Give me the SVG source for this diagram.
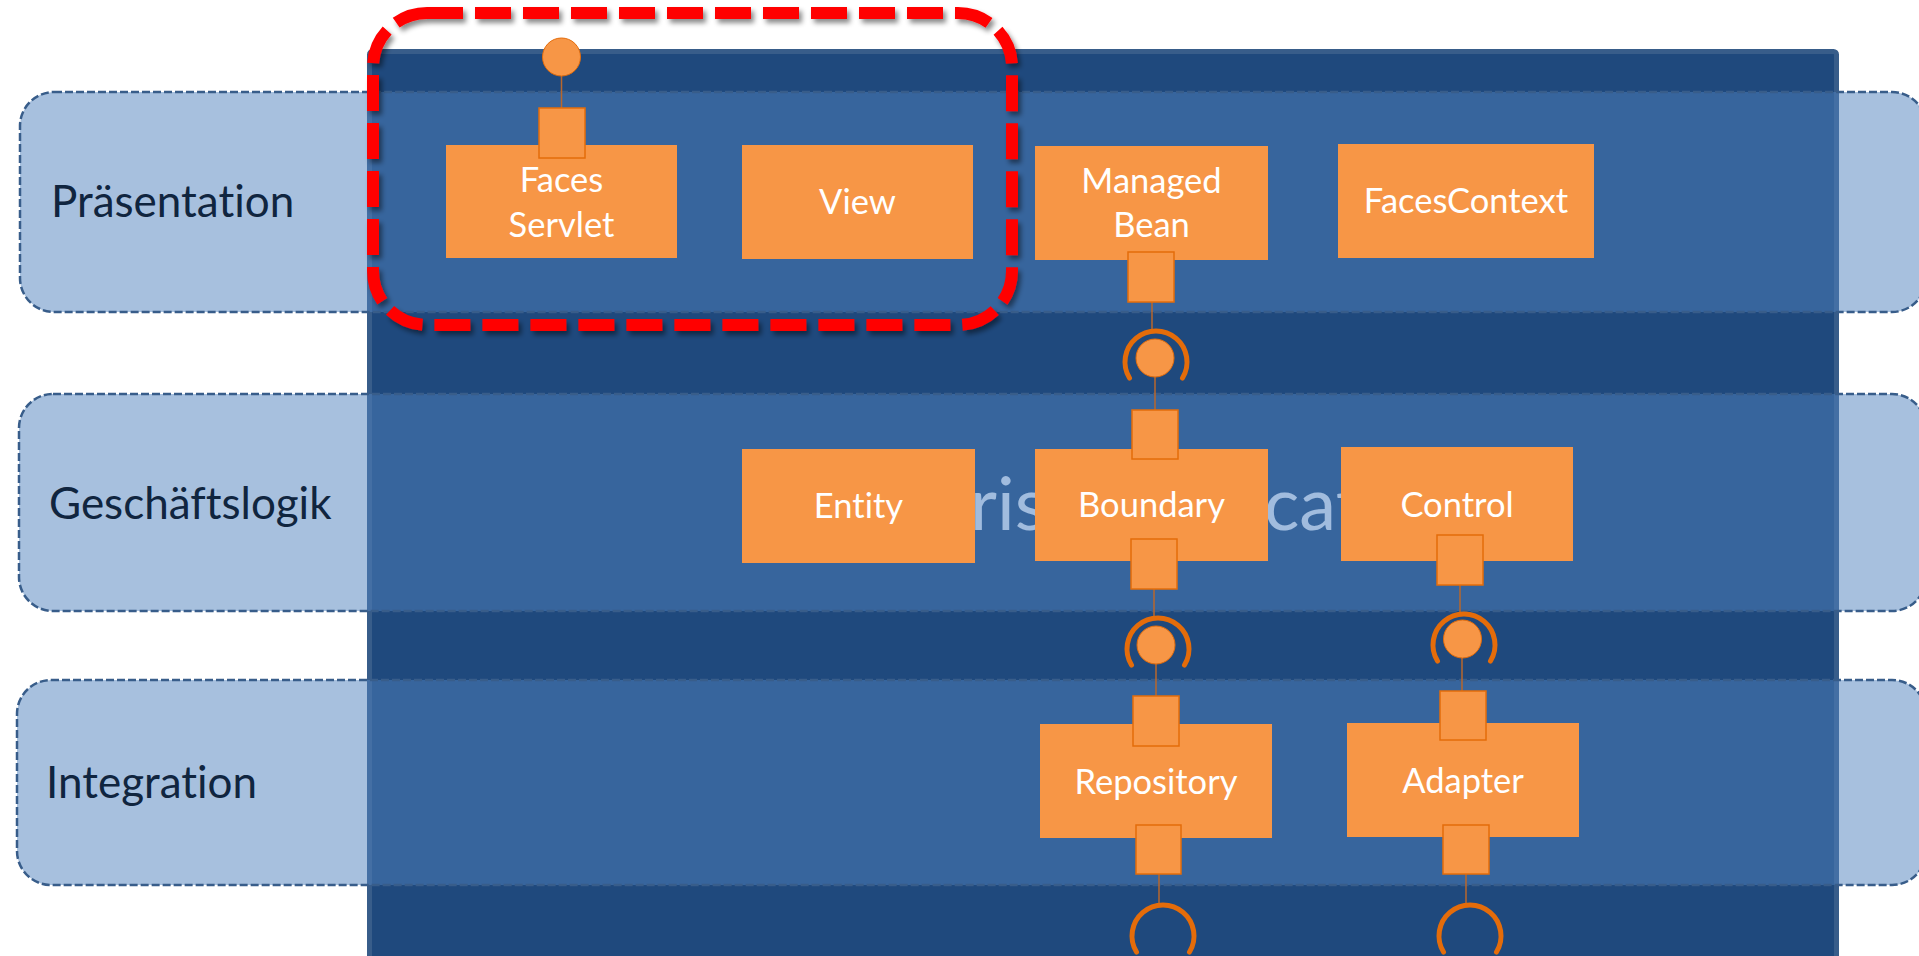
<svg xmlns="http://www.w3.org/2000/svg" width="1919" height="956" viewBox="0 0 1919 956">
  <defs>
    <style>
      text { font-variant-ligatures: none; }
      .container { fill: #1F497D; stroke: #385D8A; stroke-width: 5; }
      .title { font-family: Lato, "Liberation Sans", sans-serif; font-size: 74px; fill: #F2F7FF; }
      .lane { fill: #4F81BD; fill-opacity: 0.5; stroke: #385D8A; stroke-width: 2.5; stroke-dasharray: 8 3; }
      .lane-label { font-family: Lato, "Liberation Sans", sans-serif; font-size: 44px; fill: #10253F; }
      .box { fill: #F79646; }
      .box-label { font-family: Lato, "Liberation Sans", sans-serif; font-size: 34.5px; fill: #FFFFFF; text-anchor: middle; }
      .port { fill: #F79646; stroke: #E46C0A; stroke-width: 1.5; }
      .wire { stroke: #B8672C; stroke-width: 1.5; fill: none; }
      .ball { fill: #F79646; stroke: #E46C0A; stroke-width: 1; }
      .socket { fill: none; stroke: #E46C0A; stroke-width: 5; stroke-linecap: round; }
      .highlight { fill: none; stroke: #FF0000; stroke-width: 12; stroke-dasharray: 36 12; }
    </style>
    <filter id="shadow" x="-5%" y="-5%" width="110%" height="115%">
      <feDropShadow dx="3" dy="4" stdDeviation="2.5" flood-color="#000000" flood-opacity="0.45"/>
    </filter>
  </defs>

  <rect width="1919" height="956" fill="#FFFFFF"/>

  <!-- application container -->
  <g id="container">
    <rect class="container" x="369.5" y="51.5" width="1467" height="930" rx="3"/>
    <text class="title" y="530"><tspan x="752">Enterp</tspan><tspan x="970">ris</tspan><tspan>e Appli</tspan><tspan x="1264">cat</tspan><tspan>ion</tspan></text>
  </g>

  <!-- layers -->
  <g id="lane-praesentation">
    <rect class="lane" x="20" y="92" width="1906" height="220" rx="34"/>
    <text class="lane-label" x="51" y="217">Präsentation</text>
  </g>
  <g id="lane-geschaeftslogik">
    <rect class="lane" x="19" y="394" width="1907" height="217" rx="34"/>
    <text class="lane-label" x="49" y="519">Geschäftslogik</text>
  </g>
  <g id="lane-integration">
    <rect class="lane" x="17" y="680" width="1909" height="205" rx="34"/>
    <text class="lane-label" x="46" y="798">Integration</text>
  </g>

  <!-- wiring between ports and interfaces -->
  <g id="connectors">
    <line class="wire" x1="561.5" y1="76" x2="561.5" y2="108"/>
    <line class="wire" x1="1152" y1="302" x2="1152" y2="330"/>
    <line class="wire" x1="1155" y1="377" x2="1155" y2="410"/>
    <line class="wire" x1="1154" y1="589" x2="1154" y2="618"/>
    <line class="wire" x1="1156" y1="664" x2="1156" y2="696"/>
    <line class="wire" x1="1460" y1="585" x2="1460" y2="614"/>
    <line class="wire" x1="1462" y1="658" x2="1462" y2="691"/>
    <line class="wire" x1="1159" y1="874" x2="1159" y2="904"/>
    <line class="wire" x1="1466" y1="874" x2="1466" y2="904"/>
  </g>

  <!-- provided / required interfaces -->
  <g id="iface-faces-servlet">
    <circle class="ball" cx="561.5" cy="57" r="19"/>
  </g>
  <g id="iface-managed-bean-boundary">
    <path class="socket" d="M1129.5 378 A31 31 0 1 1 1182.5 378"/>
    <circle class="ball" cx="1155" cy="358" r="19"/>
  </g>
  <g id="iface-boundary-repository">
    <path class="socket" d="M1131.5 665 A31 31 0 1 1 1184.5 665"/>
    <circle class="ball" cx="1156" cy="645" r="19"/>
  </g>
  <g id="iface-control-adapter">
    <path class="socket" d="M1437.5 661 A31 31 0 1 1 1490.5 661"/>
    <circle class="ball" cx="1462.5" cy="639" r="19"/>
  </g>
  <g id="iface-repository-out">
    <path class="socket" d="M1136.5 952 A31 31 0 1 1 1189.5 952"/>
  </g>
  <g id="iface-adapter-out">
    <path class="socket" d="M1443.5 952 A31 31 0 1 1 1496.5 952"/>
  </g>

  <!-- components -->
  <g id="faces-servlet">
    <rect class="box" x="446" y="145" width="231" height="113"/>
    <text class="box-label" x="561.5" y="192">Faces</text>
    <text class="box-label" x="561.5" y="237">Servlet</text>
    <rect class="port" x="539" y="108" width="46" height="50"/>
  </g>
  <g id="view">
    <rect class="box" x="742" y="145" width="231" height="114"/>
    <text class="box-label" x="857.5" y="214">View</text>
  </g>
  <g id="managed-bean">
    <rect class="box" x="1035" y="146" width="233" height="114"/>
    <text class="box-label" x="1151.5" y="193">Managed</text>
    <text class="box-label" x="1151.5" y="237">Bean</text>
    <rect class="port" x="1128" y="252" width="46" height="50"/>
  </g>
  <g id="faces-context">
    <rect class="box" x="1338" y="144" width="256" height="114"/>
    <text class="box-label" x="1466" y="213">FacesContext</text>
  </g>
  <g id="entity">
    <rect class="box" x="742" y="449" width="233" height="114"/>
    <text class="box-label" x="858.5" y="518">Entity</text>
  </g>
  <g id="boundary">
    <rect class="box" x="1035" y="449" width="233" height="112"/>
    <text class="box-label" x="1151.5" y="517">Boundary</text>
    <rect class="port" x="1132" y="410" width="46" height="49"/>
    <rect class="port" x="1131" y="539" width="46" height="50"/>
  </g>
  <g id="control">
    <rect class="box" x="1341" y="447" width="232" height="114"/>
    <text class="box-label" x="1457" y="517">Control</text>
    <rect class="port" x="1437" y="535" width="46" height="50"/>
  </g>
  <g id="repository">
    <rect class="box" x="1040" y="724" width="232" height="114"/>
    <text class="box-label" x="1156" y="794">Repository</text>
    <rect class="port" x="1133" y="696" width="46" height="50"/>
    <rect class="port" x="1136" y="825" width="45" height="49"/>
  </g>
  <g id="adapter">
    <rect class="box" x="1347" y="723" width="232" height="114"/>
    <text class="box-label" x="1463" y="793">Adapter</text>
    <rect class="port" x="1440" y="691" width="46" height="49"/>
    <rect class="port" x="1443" y="825" width="46" height="49"/>
  </g>

  <!-- emphasis frame around the JSF front controller and view -->
  <g id="focus-frame" filter="url(#shadow)">
    <rect class="highlight" x="373" y="13" width="639" height="312" rx="54"/>
  </g>
</svg>
